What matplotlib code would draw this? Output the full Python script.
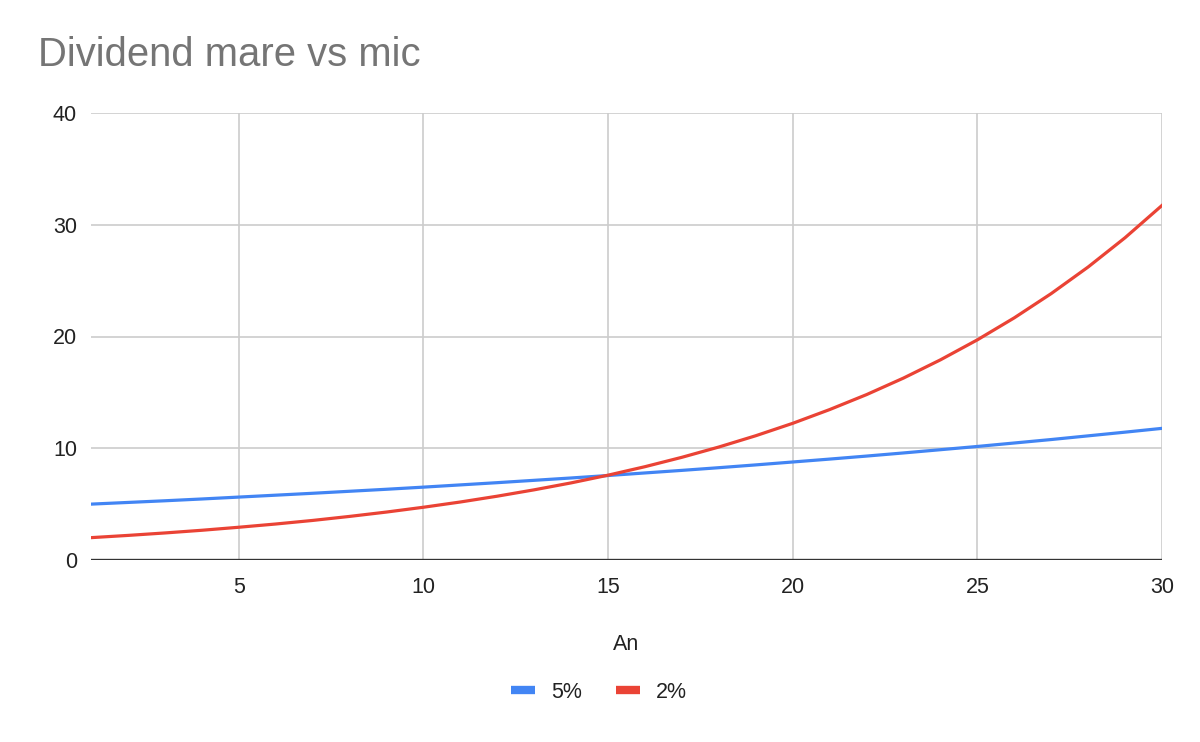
import matplotlib.pyplot as plt
from matplotlib.lines import Line2D

# years
ani = list(range(1, 31))

# values
serie_5 = [5.00, 5.15, 5.30, 5.46, 5.63, 5.80, 5.97, 6.15, 6.33, 6.52,
           6.72, 6.92, 7.13, 7.34, 7.56, 7.79, 8.02, 8.26, 8.51, 8.77,
           9.03, 9.30, 9.58, 9.87, 10.16, 10.47, 10.78, 11.11, 11.44, 11.78]
serie_2 = [2.00, 2.20, 2.42, 2.66, 2.93, 3.22, 3.54, 3.90, 4.29, 4.72,
           5.19, 5.71, 6.28, 6.90, 7.59, 8.35, 9.19, 10.11, 11.12, 12.23,
           13.46, 14.80, 16.28, 17.91, 19.70, 21.67, 23.84, 26.22, 28.84, 31.73]

x_ticks = [5, 10, 15, 20, 25, 30]
y_ticks = [0, 10, 20, 30, 40]

plt.rcParams['font.family'] = ['Liberation Sans', 'DejaVu Sans']

fig = plt.figure(figsize=(12, 7.42), dpi=100)
ax = fig.add_axes([91/1200, 1-560/742, (1162-91)/1200, (560-113)/742])

ax.plot(ani, serie_5, color='#4285F4', lw=2.3, label='5%', zorder=3)
ax.plot(ani, serie_2, color='#EA4335', lw=2.3, label='2%', zorder=3)

ax.set_xlim(1, 30)
ax.set_ylim(0, 40)
ax.set_xticks(x_ticks)
ax.set_yticks(y_ticks)
ax.grid(True, color='#cccccc', lw=1.2, zorder=0)
ax.axhline(0, color='#333333', lw=2.4, zorder=2)
for s in ax.spines.values():
    s.set_visible(False)
ax.tick_params(length=0, labelsize=15.5, colors='#222222', pad=12)
ax.tick_params(axis='y', pad=10)

fig.text(38/1200, 1-55/742, 'Dividend mare vs mic', fontsize=28.8, color='#757575', va='center')
fig.text(626/1200, 1-644/742, 'An', fontsize=15.5, color='#222222', ha='center', va='center')

handles = [Line2D([], [], color='#4285F4', lw=6, solid_capstyle='butt'),
           Line2D([], [], color='#EA4335', lw=6, solid_capstyle='butt')]
fig.legend(handles, ['5%', '2%'], loc='center', bbox_to_anchor=(599/1200, 1-692/742),
           ncol=2, frameon=False, fontsize=15.5, handlelength=1.1, handletextpad=0.75,
           columnspacing=1.6, labelcolor='#222222')

fig.savefig('out.png', dpi=100)
